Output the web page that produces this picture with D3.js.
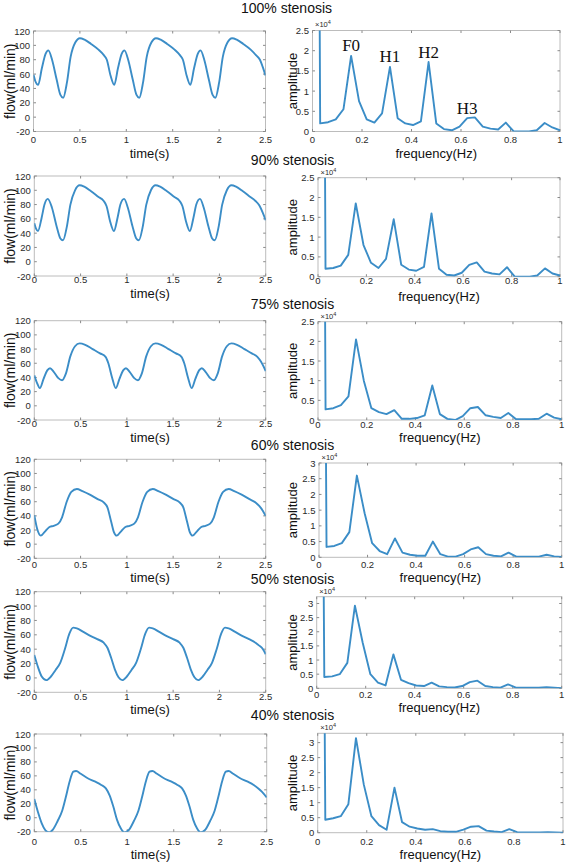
<!DOCTYPE html>
<html><head><meta charset="utf-8">
<script src="https://cdn.jsdelivr.net/npm/d3@7"></script>
<style>body{margin:0;background:#fff}svg{display:block;font-family:"Liberation Sans",Arial,sans-serif}</style>
</head><body><svg id="c" width="567" height="862"></svg>
<script>
// ---------------- data ----------------
const stenosisLabels = ["100% stenosis","90% stenosis","75% stenosis","60% stenosis","50% stenosis","40% stenosis"];
const timeTicks = [0,0.5,1,1.5,2,2.5];
const flowTicks = [-20,0,20,40,60,80,100,120];
const freqTicks = [0,0.2,0.4,0.6,0.8,1];
const ampTicks = [0,0.5,1,1.5,2,2.5,3];
const harmonicLabels = ["F0","H1","H2","H3"];
const harmonicIndex = [5,10,15,20];

const flow100 = [[0,59],[0.02,50],[0.05,45],[0.09,68],[0.13,88],[0.16,93],[0.2,80],[0.25,52],[0.29,31],[0.32,27],[0.36,48],[0.4,84],[0.45,104],[0.5,110],[0.55,108],[0.62,102],[0.7,94],[0.76,86],[0.79,80],[0.83,58],[0.87,45],
[0.91,68],[0.95,88],[0.98,93],[1.02,80],[1.07,52],[1.11,31],[1.14,27],[1.18,48],[1.22,84],[1.27,104],[1.32,110],[1.37,108],[1.44,102],[1.52,94],[1.58,86],[1.61,80],[1.65,58],[1.69,45],
[1.73,68],[1.77,88],[1.8,93],[1.84,80],[1.89,52],[1.93,31],[1.96,27],[2.0,48],[2.04,84],[2.09,104],[2.14,110],[2.19,108],[2.26,102],[2.34,94],[2.4,86],[2.44,80],[2.47,70],[2.5,58]];
const flow90 = [[0,54],[0.02,46],[0.04,43],[0.08,62],[0.11,80],[0.145,88],[0.19,76],[0.24,50],[0.28,33],[0.31,30],[0.35,48],[0.39,80],[0.44,100],[0.49,107],[0.54,105],[0.61,99],[0.69,91],[0.75,85],[0.78,78],[0.82,56],[0.86,43],
[0.9,62],[0.93,80],[0.97,88],[1.01,76],[1.06,50],[1.1,33],[1.13,30],[1.17,48],[1.21,80],[1.26,100],[1.31,107],[1.36,105],[1.43,99],[1.51,91],[1.57,85],[1.6,78],[1.64,56],[1.68,43],
[1.72,62],[1.75,80],[1.79,88],[1.83,76],[1.88,50],[1.92,33],[1.95,30],[1.99,48],[2.03,80],[2.08,100],[2.13,107],[2.18,105],[2.25,99],[2.33,91],[2.39,85],[2.43,79],[2.47,68],[2.5,58]];
const flow75 = [[0,43],[0.03,32],[0.06,25],[0.1,38],[0.14,50],[0.17,53],[0.21,48],[0.26,39],[0.3,36],[0.34,45],[0.39,70],[0.44,84],[0.49,88],[0.55,86],[0.63,80],[0.71,74],[0.77,69],[0.8,60],[0.84,40],[0.88,25],
[0.92,38],[0.96,50],[0.99,53],[1.03,48],[1.08,39],[1.12,36],[1.16,45],[1.21,70],[1.26,84],[1.31,88],[1.37,86],[1.45,80],[1.53,74],[1.59,69],[1.62,60],[1.66,40],[1.7,25],
[1.74,38],[1.78,50],[1.81,53],[1.85,48],[1.9,39],[1.94,36],[1.98,45],[2.03,70],[2.08,84],[2.13,88],[2.19,86],[2.27,80],[2.35,74],[2.41,69],[2.45,62],[2.5,49]];
const flow60 = [[0,41],[0.03,22],[0.07,12],[0.11,17],[0.16,24],[0.21,26],[0.26,29],[0.3,38],[0.35,60],[0.4,74],[0.46,78],[0.52,75],[0.6,70],[0.68,64],[0.75,59],[0.79,52],[0.83,32],[0.86,17],[0.89,12],
[0.93,17],[0.98,24],[1.03,26],[1.08,29],[1.12,38],[1.17,60],[1.22,74],[1.28,78],[1.34,75],[1.42,70],[1.5,64],[1.57,59],[1.61,52],[1.65,32],[1.68,17],[1.71,12],
[1.75,17],[1.8,24],[1.85,26],[1.9,29],[1.94,38],[1.99,60],[2.04,74],[2.1,78],[2.16,75],[2.24,70],[2.32,64],[2.39,59],[2.43,54],[2.47,47],[2.5,40]];
const flow50 = [[0,32],[0.04,15],[0.08,2],[0.13,-3],[0.18,2],[0.23,11],[0.28,21],[0.33,40],[0.38,62],[0.42,70],[0.46,69],[0.53,64],[0.6,59],[0.68,54],[0.75,49],[0.79,42],[0.83,28],[0.87,12],[0.91,1],[0.95,-3],
[1.0,2],[1.05,11],[1.1,21],[1.15,40],[1.2,62],[1.24,70],[1.28,69],[1.35,64],[1.42,59],[1.5,54],[1.57,49],[1.61,42],[1.65,28],[1.69,12],[1.73,1],[1.77,-3],
[1.82,2],[1.87,11],[1.92,21],[1.97,40],[2.02,62],[2.06,70],[2.1,69],[2.17,64],[2.24,59],[2.32,54],[2.39,49],[2.43,45],[2.47,40],[2.5,33]];
const flow40 = [[0,27],[0.04,8],[0.08,-8],[0.12,-18],[0.16,-21],[0.2,-17],[0.25,-5],[0.3,10],[0.34,30],[0.38,52],[0.42,66],[0.45,67],[0.5,63],[0.57,57],[0.65,52],[0.72,47],[0.77,42],[0.81,32],[0.85,16],[0.89,-3],[0.93,-15],[0.97,-21],
[1.02,-17],[1.07,-5],[1.12,10],[1.16,30],[1.2,52],[1.24,66],[1.27,67],[1.32,63],[1.39,57],[1.47,52],[1.54,47],[1.59,42],[1.63,32],[1.67,16],[1.71,-3],[1.75,-15],[1.79,-21],
[1.84,-17],[1.89,-5],[1.94,10],[1.98,30],[2.02,52],[2.06,66],[2.09,67],[2.14,63],[2.21,57],[2.29,52],[2.36,47],[2.41,42],[2.45,37],[2.5,29]];

const freqHz = [0,0.031,0.063,0.094,0.125,0.156,0.188,0.219,0.25,0.281,0.313,0.344,0.375,0.406,0.438,0.469,0.5,0.531,0.563,0.594,0.625,0.656,0.688,0.719,0.75,0.781,0.813,0.844,0.875,0.906,0.938,0.969,1.0];
// amplitude in units of 1e4
const amp100 = [40,0.20,0.23,0.30,0.55,1.87,0.75,0.30,0.22,0.45,1.60,0.33,0.20,0.16,0.25,1.72,0.20,0.06,0.03,0.12,0.33,0.35,0.12,0.07,0.05,0.22,0.0,0.0,0.0,0.03,0.21,0.10,0.03];
const amp90  = [40,0.20,0.22,0.28,0.55,1.85,0.80,0.35,0.22,0.45,1.45,0.30,0.18,0.15,0.25,1.60,0.20,0.05,0.03,0.10,0.30,0.36,0.13,0.08,0.06,0.24,0.0,0.0,0.0,0.03,0.21,0.08,0.03];
const amp75  = [40,0.27,0.30,0.38,0.60,2.05,1.00,0.30,0.20,0.15,0.25,0.03,0.03,0.05,0.12,0.88,0.15,0.03,0.0,0.10,0.30,0.33,0.12,0.08,0.05,0.18,0.02,0.02,0.02,0.03,0.16,0.06,0.02];
const amp60  = [40,0.33,0.36,0.45,0.80,2.60,1.40,0.45,0.20,0.10,0.60,0.15,0.08,0.05,0.05,0.50,0.10,0.02,0.02,0.10,0.25,0.32,0.10,0.05,0.03,0.15,0.02,0.02,0.02,0.02,0.08,0.03,0.01];
const amp50  = [40,0.40,0.42,0.50,0.90,2.92,1.60,0.50,0.20,0.10,1.20,0.30,0.18,0.10,0.08,0.20,0.07,0.04,0.03,0.08,0.22,0.27,0.08,0.04,0.02,0.14,0.02,0.02,0.02,0.02,0.04,0.02,0.0];
const amp40  = [40,0.43,0.48,0.55,0.95,3.15,1.60,0.55,0.25,0.10,1.50,0.35,0.20,0.14,0.10,0.12,0.05,0.03,0.03,0.10,0.20,0.22,0.07,0.04,0.02,0.12,0.02,0.01,0.01,0.01,0.02,0.01,0.0];

const flows = [flow100,flow90,flow75,flow60,flow50,flow40];
const amps = [amp100,amp90,amp75,amp60,amp50,amp40];
const ampMax = [2.5,2.5,2.5,3,3.24,3.31];

// ---------------- layout ----------------
const layout = [
 {tx:286.5,ty:8.3, L:[33.5,265.5,31,131.5], Lt:139.5, Ll:153,   R:[312.5,560,30.5,131.5], Rt:139.5, Rl:153},
 {tx:292.5,ty:159.5, L:[34.3,265.7,176,276],  Lt:279.5, Ll:293,   R:[318,560,177.7,276.7],  Rt:280.5, Rl:296.7},
 {tx:292.5,ty:303.5, L:[34.3,265.7,320.7,420],Lt:423.5, Ll:437,   R:[318,561.7,321.7,420],  Rt:424,   Rl:437.5},
 {tx:292.5,ty:445, L:[34.3,265.7,459.3,558.3],Lt:564, Ll:577,   R:[319,561.7,463,557.3],  Rt:564,   Rl:577},
 {tx:292.5,ty:578.5, L:[34.3,265.7,591.7,692.3],Lt:696.5, Ll:709.5, R:[316.7,561.7,596.7,688.3],Rt:694, Rl:707.5},
 {tx:292.5,ty:715, L:[34.3,266.7,734,831.7],Lt:841,   Ll:854.5, R:[317.7,563,733.3,832.7],Rt:841,   Rl:854.5}
];

const lineColor = "#3b8dc7";
const boxColor = "#bcbcbc";
const tickText = "#2a2a2a";
const svg = d3.select("#c");
const defs = svg.append("defs");

function panel(id, box, xDom, yDom, xTicks, yTicks, tickY, labY, xLabel, yLabel, yLabX, yLabSize, data, curve) {
  const [x0,x1,y0,y1] = box;
  const x = d3.scaleLinear().domain(xDom).range([x0,x1]);
  const y = d3.scaleLinear().domain(yDom).range([y1,y0]);
  const g = svg.append("g");
  defs.append("clipPath").attr("id",id).append("rect").attr("x",x0).attr("y",y0).attr("width",x1-x0).attr("height",y1-y0);
  g.append("rect").attr("x",x0).attr("y",y0).attr("width",x1-x0).attr("height",y1-y0)
    .attr("fill","none").attr("stroke",boxColor).attr("stroke-width",1);
  const tl = 2.5;
  xTicks.forEach(t=>{
    const xx = x(t);
    g.append("line").attr("x1",xx).attr("x2",xx).attr("y1",y1).attr("y2",y1-tl).attr("stroke","#8a8a8a");
    g.append("line").attr("x1",xx).attr("x2",xx).attr("y1",y0).attr("y2",y0+tl).attr("stroke","#8a8a8a");
    g.append("text").attr("x",xx).attr("y",tickY).attr("text-anchor","middle").attr("dominant-baseline","central")
      .attr("font-size",9.5).attr("fill",tickText).text(String(t));
  });
  yTicks.filter(t=>t>=yDom[0]&&t<=yDom[1]).forEach(t=>{
    const yy = y(t);
    g.append("line").attr("x1",x0).attr("x2",x0+tl).attr("y1",yy).attr("y2",yy).attr("stroke","#8a8a8a");
    g.append("line").attr("x1",x1).attr("x2",x1-tl).attr("y1",yy).attr("y2",yy).attr("stroke","#8a8a8a");
    g.append("text").attr("x",x0-3.5).attr("y",yy).attr("text-anchor","end").attr("dominant-baseline","central")
      .attr("font-size",9.5).attr("fill",tickText).text(String(t));
  });
  g.append("text").attr("x",(x0+x1)/2).attr("y",labY).attr("text-anchor","middle").attr("dominant-baseline","central")
    .attr("font-size",13).attr("fill","#111").text(xLabel);
  g.append("text").attr("transform",`translate(${yLabX},${(y0+y1)/2}) rotate(-90)`).attr("text-anchor","middle")
    .attr("dominant-baseline","central").attr("font-size",yLabSize).attr("fill","#111").text(yLabel);
  const line = d3.line().x(d=>x(d[0])).y(d=>y(d[1])).curve(curve);
  g.append("path").attr("clip-path",`url(#${id})`).attr("d",line(data))
    .attr("fill","none").attr("stroke",lineColor).attr("stroke-width",1.9).attr("stroke-linejoin","round");
  return {x,y,g};
}

stenosisLabels.forEach((lab,i)=>{
  const Lo = layout[i];
  svg.append("text").attr("x",Lo.tx).attr("y",Lo.ty).attr("text-anchor","middle").attr("dominant-baseline","central")
    .attr("font-size",14).attr("fill","#111").text(lab);
  panel("cl"+i, Lo.L, [0,2.5], [-20,120], timeTicks, flowTicks, Lo.Lt, Lo.Ll, "time(s)", "flow(ml/min)", 10, 14,
        flows[i], d3.curveMonotoneX);
  const spec = freqHz.map((f,k)=>[f, amps[i][k]]);
  const P = panel("cr"+i, Lo.R, [0,1], [0,ampMax[i]], freqTicks, ampTicks, Lo.Rt, Lo.Rl, "frequency(Hz)", "amplitude", 292, 13,
        spec, d3.curveLinear);
  const ex = P.g.append("text").attr("x",Lo.R[0]+2.5).attr("y",Lo.R[2]-3.2).attr("font-size",7.5).attr("fill",tickText);
  ex.append("tspan").text("\u00d710");
  ex.append("tspan").attr("dy",-3).attr("font-size",5.5).text("4");
  if(i===0){
    harmonicLabels.forEach((h,j)=>{
      const k = harmonicIndex[j];
      P.g.append("text").attr("x",P.x(freqHz[k])).attr("y",P.y(amps[i][k])-10)
        .attr("text-anchor","middle").attr("dominant-baseline","central")
        .attr("font-family","'Liberation Serif','DejaVu Serif',serif").attr("font-size",17).attr("fill","#111").text(h);
    });
  }
});
</script></body></html>
